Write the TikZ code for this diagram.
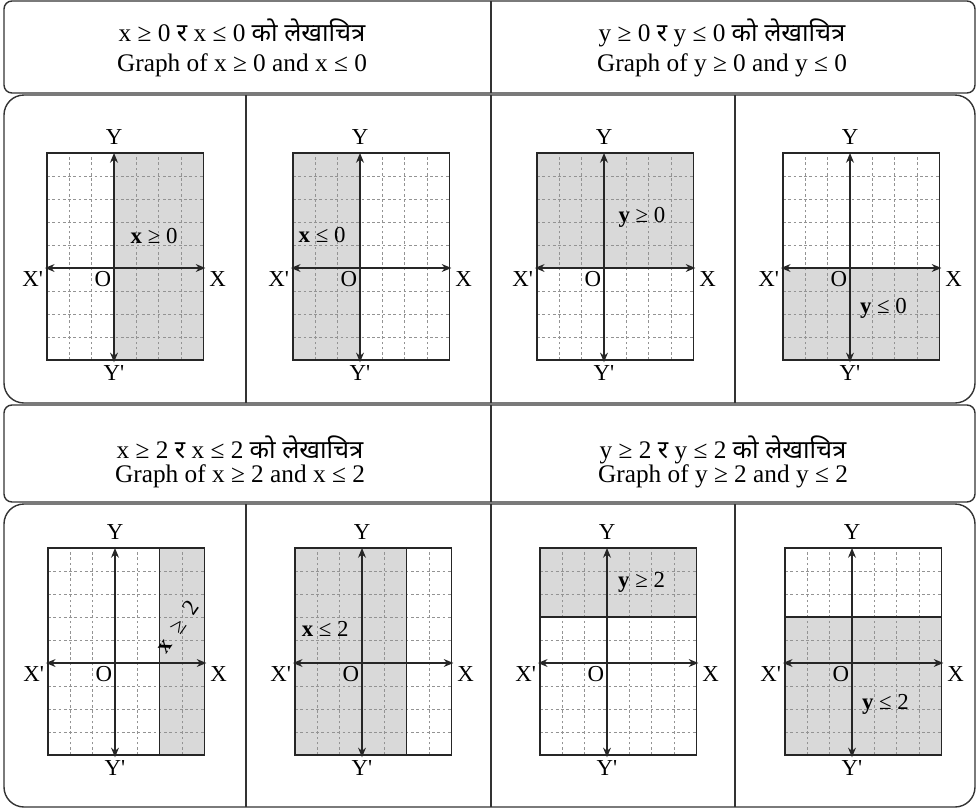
\documentclass[tikz,border=0pt]{standalone}
\usepackage{fontspec}
\setmainfont{Liberation Serif}
\newfontfamily\deva[Script=Devanagari]{Noto Sans}
\usetikzlibrary{arrows.meta}

% grid, frame, axes and axis letters of one panel
\newcommand{\axesgrid}[1]{%
  \foreach \i in {-2,...,3} \draw[gridline] (\i,-4) -- (\i,5);
  \foreach \j in {-3,...,4} \draw[gridline] (-3,\j) -- (4,\j);
  \draw[frame] (-3,-4) rectangle (4,5);
  \coordinate (#1-w) at (-3.1,0);
  \coordinate (#1-e) at (4.1,0);
  \coordinate (#1-n) at (0,5);
  \coordinate (#1-s) at (0,-4.1);
  \draw[axis] (#1-w) -- (#1-e);
  \draw[axis] (#1-s) -- (#1-n);
  \node[axlabel] (#1-Y)  at (0,5.7)      {Y};
  \node[axlabel] (#1-Yp) at (0,-4.55)    {Y\textquotesingle};
  \node[axlabel] (#1-Xp) at (-3.65,-0.5) {X\textquotesingle};
  \node[axlabel] (#1-X)  at (4.65,-0.5)  {X};
  \node[axlabel] (#1-O)  at (-0.5,-0.5)  {O};
}

\begin{document}
\begin{tikzpicture}[
    x=0.02cm, y=-0.02cm,
    box/.style = {draw=black!80, line width=0.8pt},
    head/.style = {align=center, font=\fontsize{14.4}{17}\selectfont},
    panel/.style = {x=0.446cm, y=0.46cm},
    frame/.style = {draw=black!85, line width=0.75pt},
    gridline/.style = {draw=gray!85, line width=0.35pt, dash pattern=on 1.5pt off 1.5pt},
    axis/.style = {draw=black!85, line width=0.7pt, {Stealth[length=5.5pt,width=4.5pt]}-{Stealth[length=5.5pt,width=4.5pt]}},
    shade/.style = {fill=gray!30},
    axlabel/.style = {inner sep=0pt, font=\fontsize{13}{15}\selectfont},
    region/.style = {inner sep=0pt, font=\fontsize{13}{15}\selectfont}
]
    \useasboundingbox (0,0) rectangle (978,809);

    % outer boxes
    \draw[box, rounded corners=0.16cm] (4,1) rectangle (975,93);
    \draw[box, rounded corners=0.4cm] (4,95) rectangle (975,403);
    \draw[box, rounded corners=0.16cm] (4,405) rectangle (975,502);
    \draw[box, rounded corners=0.4cm] (4,504) rectangle (975,807);
    \draw[box] (491,1) -- (491,93);
    \draw[box] (491,405) -- (491,502);
    \foreach \c in {246,491,735} {
        \draw[box] (\c,95) -- (\c,403);
        \draw[box] (\c,504) -- (\c,807);
    }

    % headings
    \node[head] (h1) at (242,48) {x ≥ 0 {\deva\bfseries र} x ≤ 0 {\deva\bfseries को लेखाचित्र}\\ Graph of x ≥ 0 and x ≤ 0};
    \node[head] (h2) at (722,48) {y ≥ 0 {\deva\bfseries र} y ≤ 0 {\deva\bfseries को लेखाचित्र}\\ Graph of y ≥ 0 and y ≤ 0};
    \node[head] (h3) at (240,462) {x ≥ 2 {\deva\bfseries र} x ≤ 2 {\deva\bfseries को लेखाचित्र}\\[-3pt] Graph of x ≥ 2 and x ≤ 2};
    \node[head] (h4) at (723,462) {y ≥ 2 {\deva\bfseries र} y ≤ 2 {\deva\bfseries को लेखाचित्र}\\[-3pt] Graph of y ≥ 2 and y ≤ 2};

    % x >= 0
    \begin{scope}[shift={(114,268)}, panel]
        \fill[shade] (0,-4) rectangle (4,5);
        \axesgrid{a}
        \node[region] (a-lbl) at (1.8,1.4) {\textbf{x} ≥ 0};
    \end{scope}
    % x <= 0
    \begin{scope}[shift={(360,268)}, panel]
        \fill[shade] (-3,-4) rectangle (0,5);
        \axesgrid{b}
        \node[region] (b-lbl) at (-1.7,1.45) {\textbf{x} ≤ 0};
    \end{scope}
    % y >= 0
    \begin{scope}[shift={(604,268)}, panel]
        \fill[shade] (-3,0) rectangle (4,5);
        \axesgrid{c}
        \node[region] (c-lbl) at (1.7,2.2) {\textbf{y} ≥ 0};
    \end{scope}
    % y <= 0
    \begin{scope}[shift={(850,268)}, panel]
        \fill[shade] (-3,-4) rectangle (4,0);
        \axesgrid{d}
        \node[region] (d-lbl) at (1.5,-1.75) {\textbf{y} ≤ 0};
    \end{scope}
    % x >= 2
    \begin{scope}[shift={(115,663)}, panel]
        \fill[shade] (2,-4) rectangle (4,5);
        \axesgrid{e}
        \draw[frame] (2,-4) -- (2,5);
        \node[region, rotate=55] (e-lbl) at (2.8,1.59) {\textbf{x}\enspace≥\enspace2};
    \end{scope}
    % x <= 2
    \begin{scope}[shift={(362,663)}, panel]
        \fill[shade] (-3,-4) rectangle (2,5);
        \axesgrid{f}
        \draw[frame] (2,-4) -- (2,5);
        \node[region] (f-lbl) at (-1.65,1.5) {\textbf{x} ≤ 2};
    \end{scope}
    % y >= 2
    \begin{scope}[shift={(607,663)}, panel]
        \fill[shade] (-3,2) rectangle (4,5);
        \axesgrid{g}
        \draw[frame] (-3,2) -- (4,2);
        \node[region] (g-lbl) at (1.55,3.5) {\textbf{y} ≥ 2};
    \end{scope}
    % y <= 2
    \begin{scope}[shift={(852,663)}, panel]
        \fill[shade] (-3,-4) rectangle (4,2);
        \axesgrid{h}
        \draw[frame] (-3,2) -- (4,2);
        \node[region] (h-lbl) at (1.5,-1.8) {\textbf{y} ≤ 2};
    \end{scope}
\end{tikzpicture}
\end{document}
